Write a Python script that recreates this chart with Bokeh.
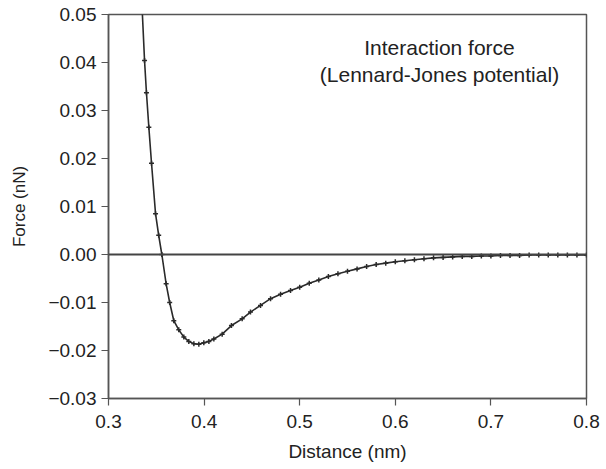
from bokeh.plotting import figure
from bokeh.models import Span, FixedTicker, CustomJSTickFormatter, Label
from bokeh.embed import file_html
from bokeh.resources import INLINE

# Data (distance in nm, force in nN)
distance = [0.3350, 0.3377, 0.3397, 0.3422, 0.3450, 0.3492, 0.3525, 0.3558,
            0.3603, 0.3640, 0.3683, 0.3735, 0.3788, 0.3840, 0.3893, 0.3945,
            0.3997, 0.4050, 0.4102, 0.4189, 0.4286, 0.4398, 0.4485, 0.4590,
            0.4695, 0.4800, 0.4904, 0.5000, 0.5100, 0.5200, 0.5300, 0.5400,
            0.5500, 0.5600, 0.5700, 0.5800, 0.5900, 0.6000, 0.6100, 0.6200,
            0.6300, 0.6400, 0.6500, 0.6600, 0.6700, 0.6800, 0.6900, 0.7000,
            0.7100, 0.7200, 0.7300, 0.7400, 0.7500, 0.7600, 0.7700, 0.7800,
            0.7900, 0.8000]
force = [0.0520, 0.0404, 0.0337, 0.0265, 0.0190, 0.0085, 0.0040, 0.0000,
         -0.0061, -0.0100, -0.0138, -0.0157, -0.0172, -0.0181, -0.0186, -0.0187,
         -0.0184, -0.0181, -0.0176, -0.0166, -0.0148, -0.0134, -0.0120, -0.0106,
         -0.0092, -0.0083, -0.0075, -0.0068, -0.0060, -0.0053, -0.0046, -0.0040,
         -0.0035, -0.0030, -0.0025, -0.0021, -0.0018, -0.0015, -0.0013, -0.0011,
         -0.0009, -0.0007, -0.0006, -0.0005, -0.0004, -0.0004, -0.0003, -0.0003,
         -0.0002, -0.0002, -0.0002, -0.0001, -0.0001, -0.0001, -0.0001, -0.0001,
         -0.0001, -0.0001]
x_ticks = [0.3, 0.4, 0.5, 0.6, 0.7, 0.8]
y_ticks = [-0.03, -0.02, -0.01, 0.0, 0.01, 0.02, 0.03, 0.04, 0.05]
annotation = ["Interaction force", "(Lennard-Jones potential)"]

FONT = "Liberation Sans"
INK = "#2a2a2a"

p = figure(width=606, height=469, output_backend="svg", toolbar_location=None,
           x_range=(0.3, 0.8), y_range=(-0.03, 0.05),
           min_border_left=108, min_border_right=20, min_border_top=14,
           min_border_bottom=71)
p.background_fill_color = "white"
p.border_fill_color = "white"
p.outline_line_color = "#555555"
p.outline_line_width = 1.5
p.xgrid.visible = False
p.ygrid.visible = False

p.xaxis.ticker = FixedTicker(ticks=x_ticks)
p.yaxis.ticker = FixedTicker(ticks=y_ticks)
p.xaxis.formatter = CustomJSTickFormatter(code="return tick.toFixed(1);")
p.yaxis.formatter = CustomJSTickFormatter(
    code="return (tick < -1e-9 ? '\u2212' : '') + Math.abs(tick).toFixed(2);")

for ax in (p.xaxis, p.yaxis):
    ax.axis_line_color = "#555555"
    ax.axis_line_width = 1.5
    ax.major_tick_line_color = "#555555"
    ax.major_tick_line_width = 1.2
    ax.major_tick_in = 0
    ax.major_tick_out = 7
    ax.minor_tick_line_color = None
    ax.major_label_text_font = FONT
    ax.major_label_text_font_size = "19px"
    ax.major_label_text_color = "#222222"
    ax.axis_label_text_font = FONT
    ax.axis_label_text_font_style = "normal"
    ax.axis_label_text_color = "#222222"

p.xaxis.major_label_standoff = 9
p.yaxis.major_label_standoff = 5
p.xaxis.axis_label = "Distance (nm)"
p.yaxis.axis_label = "Force (nN)"
p.xaxis.axis_label_text_font_size = "19px"
p.yaxis.axis_label_text_font_size = "17px"
p.xaxis.axis_label_standoff = 10
p.yaxis.axis_label_standoff = 16

p.add_layout(Span(location=0, dimension="width", line_color="#444444", line_width=1.8))

p.line(distance, force, line_color=INK, line_width=1.6)
p.scatter(distance, force, marker="cross", size=5, line_color=INK, line_width=1.5)

p.add_layout(Label(x=0.6462, y=0.04313, text=annotation[0], text_font=FONT,
                   text_font_size="21px", text_color="#222222",
                   text_align="center", text_baseline="alphabetic"))
p.add_layout(Label(x=0.6462, y=0.0375, text=annotation[1], text_font=FONT,
                   text_font_size="21px", text_color="#222222",
                   text_align="center", text_baseline="alphabetic"))

open("out.html", "w").write(file_html(p, INLINE))
